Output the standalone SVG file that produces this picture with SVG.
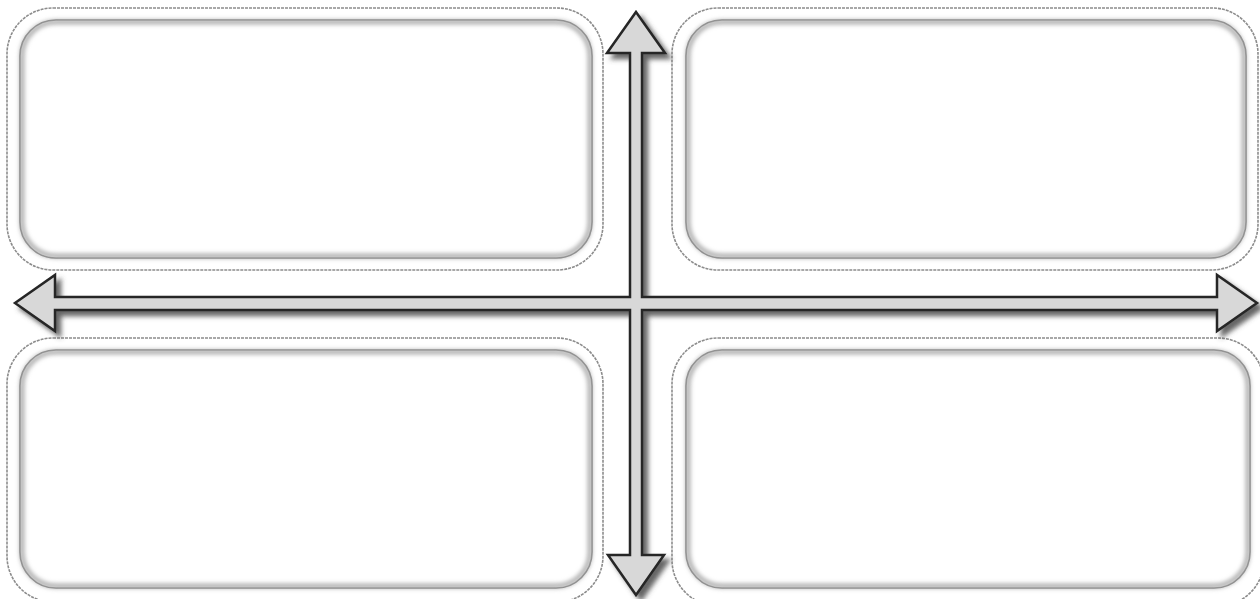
<svg xmlns="http://www.w3.org/2000/svg" width="1260" height="599" viewBox="0 0 1260 599">
<defs>
<style>
.outer{fill:none;stroke:#8c8c8c;stroke-width:1.6;stroke-dasharray:3 1}
.inner{fill:#fff;stroke:#6e6e6e;stroke-width:1.6}
.innershade{fill:none;stroke:#b0b0b0;stroke-width:5}
.arrow{fill:#d8d8d8;stroke:#262626;stroke-width:2.5;stroke-linejoin:miter}
</style>
<filter id="blur" x="-5%" y="-5%" width="110%" height="110%"><feGaussianBlur stdDeviation="2"/></filter>
<filter id="shadow" x="-5%" y="-5%" width="115%" height="115%">
<feGaussianBlur in="SourceAlpha" stdDeviation="2.5"/>
<feOffset dx="5" dy="5" result="o"/>
<feFlood flood-color="#4a4a4a" flood-opacity="0.85"/>
<feComposite in2="o" operator="in" result="s"/>
<feMerge><feMergeNode in="s"/><feMergeNode in="SourceGraphic"/></feMerge>
</filter>
</defs>
<rect width="1260" height="599" fill="#fff"/>
<g id="box-top-left">
<rect class="outer" x="7" y="8" width="596" height="262" rx="46"/>
<rect class="inner" x="20" y="20" width="572" height="238" rx="36"/>
<rect class="innershade" x="22" y="22" width="568" height="234" rx="34" filter="url(#blur)"/>
</g>
<g id="box-top-right">
<rect class="outer" x="672" y="8" width="586" height="262" rx="46"/>
<rect class="inner" x="686" y="20" width="560" height="238" rx="36"/>
<rect class="innershade" x="688" y="22" width="556" height="234" rx="34" filter="url(#blur)"/>
</g>
<g id="box-bottom-left">
<rect class="outer" x="7" y="338" width="596" height="264" rx="46"/>
<rect class="inner" x="20" y="350" width="572" height="238" rx="36"/>
<rect class="innershade" x="22" y="352" width="568" height="234" rx="34" filter="url(#blur)"/>
</g>
<g id="box-bottom-right">
<rect class="outer" x="672" y="338" width="592" height="268" rx="46"/>
<rect class="inner" x="686" y="350" width="564" height="238" rx="36"/>
<rect class="innershade" x="688" y="352" width="560" height="234" rx="34" filter="url(#blur)"/>
</g>
<g id="connectors">
<path class="arrow" filter="url(#shadow)" d="M636,12 L665,53 L642,53 L642,297 L1217,297 L1217,275 L1257,303 L1217,331 L1217,310 L642,310 L642,555 L664,555 L636,595 L608,555 L630,555 L630,310 L55,310 L55,331 L15,303 L55,275 L55,297 L630,297 L630,53 L607,53 Z"/>
</g>
</svg>
